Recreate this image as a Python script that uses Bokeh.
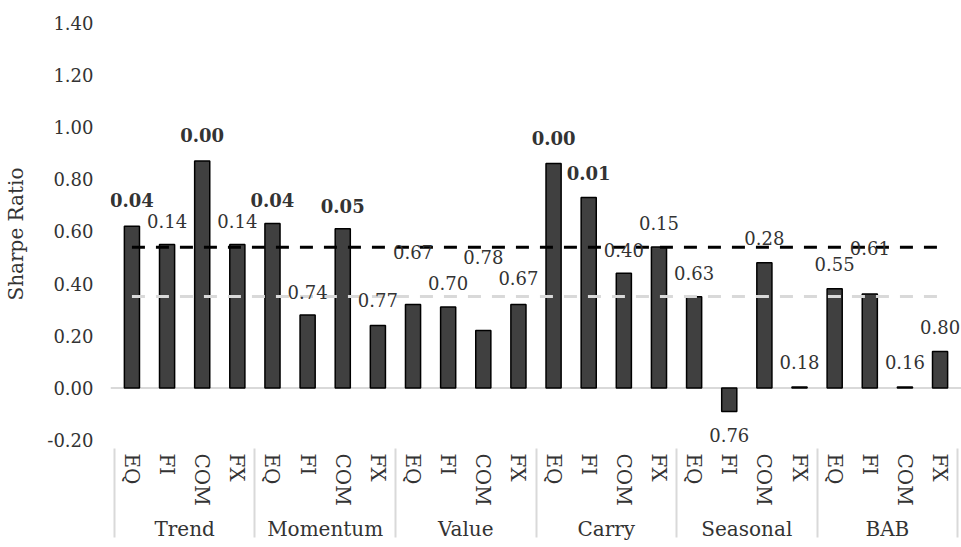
from bokeh.plotting import figure
from bokeh.models import (FactorRange, Range1d, ColumnDataSource, FixedTicker,
                          NumeralTickFormatter, Span, LabelSet)
from bokeh.embed import file_html
from bokeh.resources import INLINE
from bokeh.core.properties import value, field

# ---------------- data ----------------
groups = ["Trend", "Momentum", "Value", "Carry", "Seasonal", "BAB"]
assets = ["EQ", "FI", "COM", "FX"]

sharpe_trend    = [0.62, 0.55, 0.87, 0.55]
sharpe_momentum = [0.63, 0.28, 0.61, 0.24]
sharpe_value    = [0.32, 0.31, 0.22, 0.32]
sharpe_carry    = [0.86, 0.73, 0.44, 0.54]
sharpe_seasonal = [0.35, -0.09, 0.48, 0.004]
sharpe_bab      = [0.38, 0.36, 0.004, 0.14]

pval_trend    = ["0.04", "0.14", "0.00", "0.14"]
pval_momentum = ["0.04", "0.74", "0.05", "0.77"]
pval_value    = ["0.67", "0.70", "0.78", "0.67"]
pval_carry    = ["0.00", "0.01", "0.40", "0.15"]
pval_seasonal = ["0.63", "0.76", "0.28", "0.18"]
pval_bab      = ["0.55", "0.61", "0.16", "0.80"]

# height (Sharpe ratio units) at which each p-value label is placed
label_at_trend    = [0.719, 0.638, 0.968, 0.638]
label_at_momentum = [0.719, 0.367, 0.699, 0.336]
label_at_value    = [0.520, 0.401, 0.501, 0.420]
label_at_carry    = [0.956, 0.822, 0.527, 0.631]
label_at_seasonal = [0.440, -0.181, 0.573, 0.099]
label_at_bab      = [0.477, 0.535, 0.099, 0.232]

benchmark_high = 0.539
benchmark_low = 0.351

y_ticks = [-0.2, 0.0, 0.2, 0.4, 0.6, 0.8, 1.0, 1.2, 1.4]
y_min, y_max = -0.2, 1.4
significance = 0.05

# ---------------- build ----------------
sharpe = (sharpe_trend + sharpe_momentum + sharpe_value +
          sharpe_carry + sharpe_seasonal + sharpe_bab)
pvals = (pval_trend + pval_momentum + pval_value +
         pval_carry + pval_seasonal + pval_bab)
label_at = (label_at_trend + label_at_momentum + label_at_value +
            label_at_carry + label_at_seasonal + label_at_bab)
factors = [(g, a) for g in groups for a in assets]
styles = ["bold" if float(pv) <= significance else "normal" for pv in pvals]

src = ColumnDataSource(dict(x=factors, sharpe=sharpe, pval=pvals,
                            label_at=label_at, style=styles,
                            hi=[benchmark_high] * len(factors),
                            lo=[benchmark_low] * len(factors)))

FONT = "DejaVu Serif"
TXT = "#333333"
SEP = "#d9d9d9"

# blank end groups so that the axis draws separators at both outer edges;
# they are trimmed away again by a negative (per-side) padding
edge_pad = 0.11
x_range = FactorRange(*([(" ", " ")] + factors + [("  ", " ")]),
                      factor_padding=0, group_padding=0, subgroup_padding=0,
                      range_padding=-(1 - edge_pad),
                      range_padding_units="absolute")

p = figure(width=961, height=547, output_backend="svg", toolbar_location=None,
           x_range=x_range,
           y_range=Range1d(y_min - 0.02, y_max),
           min_border_left=110, min_border_right=0, min_border_top=22,
           min_border_bottom=102)
p.outline_line_color = None
p.xgrid.grid_line_color = None
p.ygrid.grid_line_color = None
p.background_fill_color = "white"
p.border_fill_color = "white"

p.add_layout(Span(location=0, dimension="width", line_color=SEP,
                  line_width=2, level="underlay"))

p.vbar(x="x", top="sharpe", bottom=0, width=0.43, source=src,
       fill_color="#404040", line_color="black", line_width=1.5)

p.line(x="x", y="hi", source=src, line_color="black", line_width=3,
       line_dash="13 11")
p.line(x="x", y="lo", source=src, line_color=SEP, line_width=3,
       line_dash="13 11")

labels = LabelSet(x="x", y="label_at", text="pval", source=src,
                  text_align="center", text_baseline="middle",
                  text_font=value(FONT), text_font_size=value("18px"),
                  text_font_style=field("style"), text_color=TXT)
p.add_layout(labels)

# y axis
ya = p.yaxis[0]
ya.ticker = FixedTicker(ticks=y_ticks)
ya.formatter = NumeralTickFormatter(format="0.00")
ya.axis_line_color = None
ya.major_tick_line_color = None
ya.minor_tick_line_color = None
ya.major_tick_out = 0
ya.major_label_standoff = 17
ya.major_label_text_font = FONT
ya.major_label_text_font_size = "18px"
ya.major_label_text_color = TXT
ya.axis_label = "Sharpe Ratio"
ya.axis_label_text_font = FONT
ya.axis_label_text_font_size = "20px"
ya.axis_label_text_font_style = "normal"
ya.axis_label_text_color = TXT
ya.axis_label_standoff = 16

# x axis
xa = p.xaxis[0]
xa.axis_line_color = None
xa.major_tick_line_color = None
xa.minor_tick_line_color = None
xa.major_tick_out = 0
xa.major_label_orientation = "vertical"
xa.major_label_standoff = 8
xa.major_label_text_font = FONT
xa.major_label_text_font_size = "20px"
xa.major_label_text_color = TXT
xa.group_text_font = FONT
xa.group_text_font_size = "20px"
xa.group_text_font_style = "normal"
xa.group_text_color = TXT
xa.separator_line_color = SEP
xa.separator_line_width = 2

open("out.html", "w").write(file_html(p, INLINE))
